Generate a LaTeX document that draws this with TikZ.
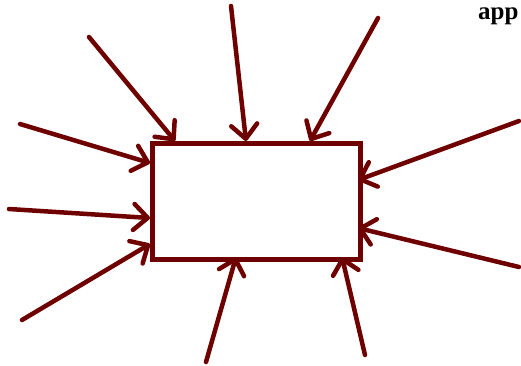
\documentclass[tikz,border=0pt]{standalone}
\usepackage{fontspec}
\setmainfont{Liberation Serif}
\usetikzlibrary{arrows.meta}
\definecolor{maroonc}{RGB}{110,0,0}
\tikzset{
  box/.style={draw=maroonc, line width=4.5pt},
  feed/.style={draw=maroonc, line width=4.5pt, line cap=round,
    -{Straight Barb[length=14pt,width=26pt,line cap=round,line join=round]}},
}
\begin{document}
\begin{tikzpicture}[x=1pt,y=-1pt]
\useasboundingbox (0,0) rectangle (521,365);
\node[box, minimum width=208pt, minimum height=116pt, inner sep=0pt, anchor=north west] (r) at (150,141) {};
\begin{scope}
\clip (0,0) rectangle (521,365);
\node[anchor=base west, inner sep=0pt, font=\bfseries\fontsize{25}{30}\selectfont] (t) at (478,19) {app};
\end{scope}
\coordinate (s1) at (89,37);
\coordinate (s2) at (231,6);
\coordinate (s3) at (378,18);
\coordinate (s4) at (20,124);
\coordinate (s5) at (9,209);
\coordinate (s6) at (22,320);
\coordinate (s7) at (519,121);
\coordinate (s8) at (519,267);
\coordinate (s9) at (206,362);
\coordinate (s10) at (365,355);
\coordinate (e1) at (175,141);
\coordinate (e2) at (246,141);
\coordinate (e3) at (310,141);
\coordinate (e4) at (150,163);
\coordinate (e5) at (150,218);
\coordinate (e6) at (150,244);
\coordinate (e7) at (358,180);
\coordinate (e8) at (358,228);
\coordinate (e9) at (236,257);
\coordinate (e10) at (342,257);
\foreach \i in {1,...,10} {\draw[feed] (s\i) -- (e\i);}
\end{tikzpicture}
\end{document}
